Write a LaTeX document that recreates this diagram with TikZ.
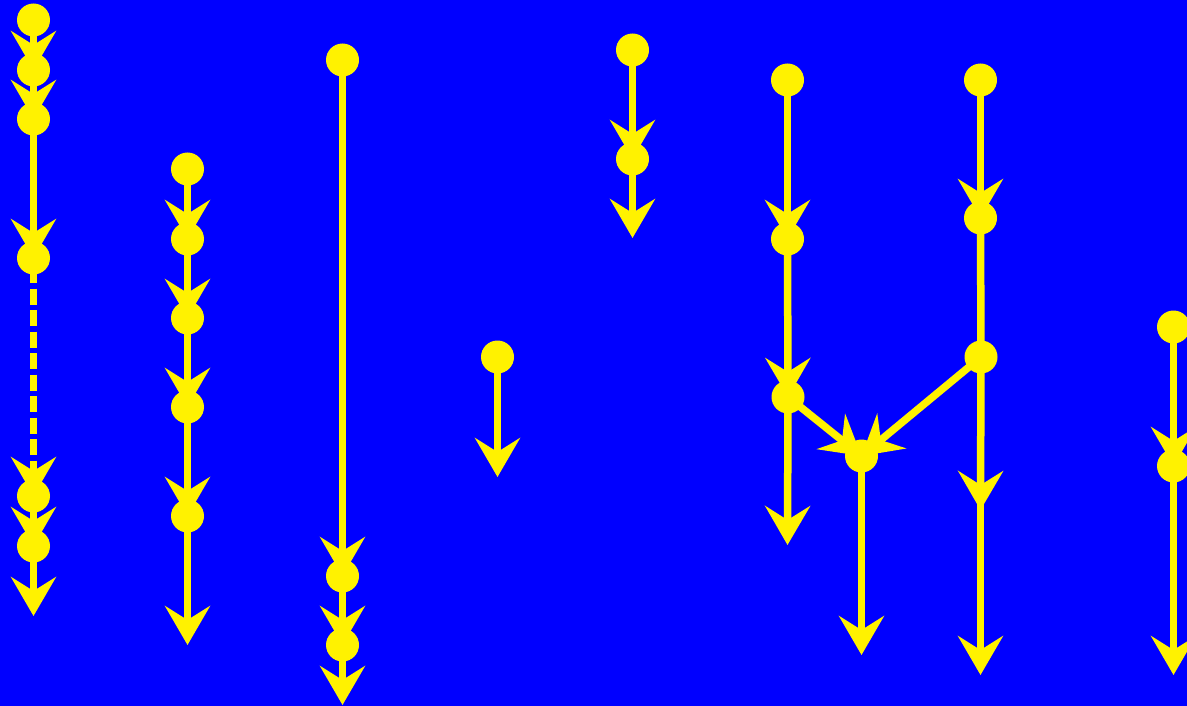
\documentclass[tikz,border=0pt]{standalone}
\usetikzlibrary{arrows.meta}
\pgfdeclarelayer{fg}
\pgfsetlayers{main,fg}
\begin{document}
\begin{tikzpicture}[x=1pt,y=-1pt,
  dot/.style={circle,fill=yellow,minimum size=33pt,inner sep=0pt},
  conn/.style={draw=yellow,line width=7.5pt,-{Stealth[length=39pt,width=45pt,inset=14pt]}},
  plain/.style={draw=yellow,line width=7.5pt},
  dashconn/.style={conn,dash pattern=on 16pt off 5.5pt,dash phase=-9pt}]
\fill[blue] (0,0) rectangle (1187,706);
\useasboundingbox (0,0) rectangle (1187,706);
\begin{pgfonlayer}{fg}
% column 1
\node[dot] (a1) at (33.5,20) {};
\node[dot] (a2) at (33.5,70) {};
\node[dot] (a3) at (33.5,119) {};
\node[dot] (a4) at (33.5,258) {};
\node[dot] (a5) at (33.5,496) {};
\node[dot] (a6) at (33.5,546) {};
% column 2
\node[dot] (b1) at (187.5,169) {};
\node[dot] (b2) at (187.5,239) {};
\node[dot] (b3) at (187.5,318) {};
\node[dot] (b4) at (187.5,407) {};
\node[dot] (b5) at (187.5,516) {};
% column 3
\node[dot] (c1) at (342.5,60) {};
\node[dot] (c2) at (342.5,576) {};
\node[dot] (c3) at (342.5,645) {};
% column 4
\node[dot] (d1) at (497.5,357) {};
% column 5
\node[dot] (e1) at (632.5,50) {};
\node[dot] (e2) at (632.5,159) {};
% column 6
\node[dot] (f1) at (787.5,80) {};
\node[dot] (f2) at (787.5,239) {};
\node[dot] (f3) at (788,397) {};
% join
\node[dot] (h1) at (861.5,456) {};
% column 7
\node[dot] (g1) at (980.5,80) {};
\node[dot] (g2) at (980.5,218) {};
\node[dot] (g3) at (981,357) {};
% column 8
\node[dot] (k1) at (1173.5,327) {};
\node[dot] (k2) at (1173.5,466) {};
\end{pgfonlayer}
% free ends
\coordinate (a7) at (33.5,616);
\coordinate (b6) at (187.5,645);
\coordinate (c4) at (342.5,705);
\coordinate (d2) at (497.5,477);
\coordinate (e3) at (632.5,238);
\coordinate (f4) at (787.5,545);
\coordinate (h2) at (861.5,655);
\coordinate (g4) at (980.5,510);
\coordinate (g5) at (980.5,675);
\coordinate (k3) at (1173.5,675);
% connectors
\draw[conn] (a1.center) -- (a2.center);
\draw[conn] (a2.center) -- (a3.center);
\draw[conn] (a3.center) -- (a4.center);
\draw[dashconn] (a4.center) -- (a5.center);
\draw[conn] (a5.center) -- (a6.center);
\draw[conn] (a6.center) -- (a7);
\draw[conn] (b1.center) -- (b2.center);
\draw[conn] (b2.center) -- (b3.center);
\draw[conn] (b3.center) -- (b4.center);
\draw[conn] (b4.center) -- (b5.center);
\draw[conn] (b5.center) -- (b6);
\draw[conn] (c1.center) -- (c2.center);
\draw[conn] (c2.center) -- (c3.center);
\draw[conn] (c3.center) -- (c4);
\draw[conn] (d1.center) -- (d2);
\draw[conn] (e1.center) -- (e2.center);
\draw[conn] (e2.center) -- (e3);
\draw[conn] (f1.center) -- (f2.center);
\draw[conn] (f2.center) -- (f3.center);
\draw[conn] (f3.center) -- (f4);
\draw[conn] (f3.center) -- (h1.center);
\draw[conn] (g3.center) -- (h1.center);
\draw[conn] (h1.center) -- (h2);
\draw[conn] (g1.center) -- (g2.center);
\draw[plain] (g2.center) -- (g3.center);
\draw[conn] (g3.center) -- (g4);
\draw[conn,shorten <=-16pt] (g4) -- (g5);
\draw[conn] (k1.center) -- (k2.center);
\draw[conn] (k2.center) -- (k3);
\end{tikzpicture}
\end{document}
